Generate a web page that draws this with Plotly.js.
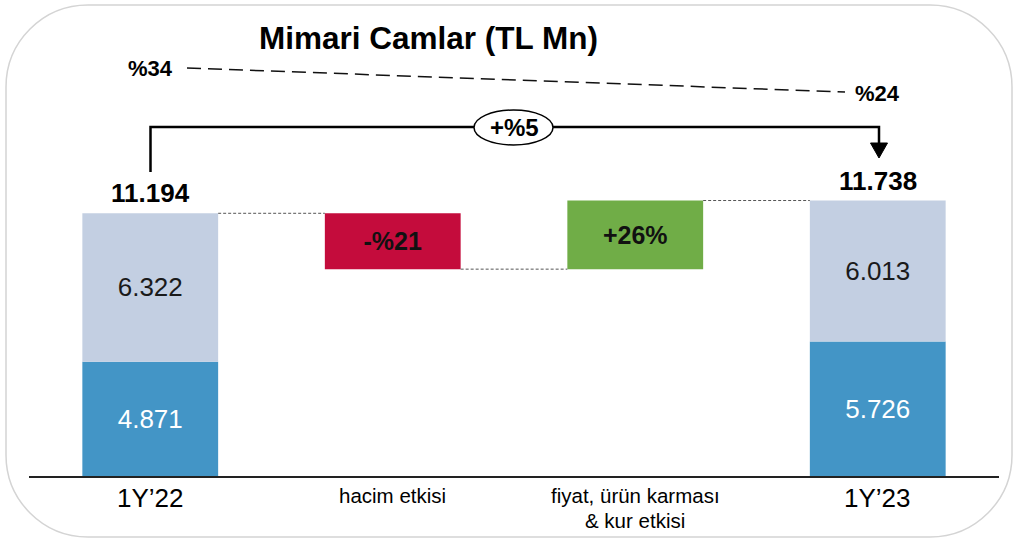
<!DOCTYPE html>
<html>
<head>
<meta charset="utf-8">
<script src="https://cdn.plot.ly/plotly-3.0.1.min.js"></script>
<style>
html,body{margin:0;padding:0;background:#fff;}
#chart{width:1017px;height:541px;}
</style>
</head>
<body>
<div id="chart"></div>
<script>
// ---- data ----
var categories = ["1Y\u201922", "hacim etkisi", "fiyat, \u00fcr\u00fcn karmas\u0131<br>& kur etkisi", "1Y\u201923"];
var periodCats = [categories[0], categories[3]];
var baseValues = [4871, 5726];      // dark blue segment
var upperValues = [6322, 6013];     // light segment
var totals = [11194, 11738];
var totalLabels = ["11.194", "11.738"];
var baseLabels = ["4.871", "5.726"];
var upperLabels = ["6.322", "6.013"];
var volumeEffect = -2380;
var priceEffect = 2924;
var effectLabels = ["-%21", "+26%"];
var marginStart = "%34";
var marginEnd = "%24";
var growthLabel = "+%5";
var titleText = "Mimari Camlar (TL Mn)";

// ---- geometry helpers (pixel -> paper) ----
var W = 1017, H = 541, ML = 29, MR = 18, MT = 20, MB = 65;
var PW = W - ML - MR, PH = H - MT - MB;
function px(x){ return (x - ML) / PW; }
function py(y){ return (H - MB - y) / PH; }

var FONT = "Liberation Sans, Arial, Helvetica, sans-serif";
var BW = 0.56;

var afterVolume = totals[0] + volumeEffect;

var traces = [
  {
    type: "bar", x: periodCats, y: baseValues, width: BW,
    marker: {color: "#4395C6", line: {width: 0}},
    text: baseLabels, textposition: "inside", insidetextanchor: "middle", textangle: 0,
    textfont: {family: FONT, size: 26, color: "#ffffff"},
    hoverinfo: "skip"
  },
  {
    type: "bar", x: periodCats, y: upperValues, base: baseValues, width: BW,
    marker: {color: "#C3CFE2", line: {width: 0}},
    text: upperLabels, textposition: "inside", insidetextanchor: "middle", textangle: 0,
    textfont: {family: FONT, size: 26, color: "#1a1a1a"},
    hoverinfo: "skip"
  },
  {
    type: "bar", x: [categories[1]], y: [volumeEffect], base: [totals[0]], width: BW,
    marker: {color: "#C40C3C", line: {width: 0}},
    text: [effectLabels[0]], textposition: "inside", insidetextanchor: "middle", textangle: 0,
    textfont: {family: FONT, size: 25, color: "#111111", weight: "bold"},
    hoverinfo: "skip"
  },
  {
    type: "bar", x: [categories[2]], y: [priceEffect], base: [afterVolume], width: BW,
    marker: {color: "#70AD47", line: {width: 0}},
    text: [effectLabels[1]], textposition: "inside", insidetextanchor: "middle", textangle: 0,
    textfont: {family: FONT, size: 25, color: "#111111", weight: "bold"},
    hoverinfo: "skip"
  }
];

// border path (rounded rectangle)
function roundRect(x0, y0, x1, y1, r){
  var k = 0.5523 * r;
  var p = "";
  p += "M" + px(x0 + r) + "," + py(y0);
  p += " L" + px(x1 - r) + "," + py(y0);
  p += " C" + px(x1 - r + k) + "," + py(y0) + " " + px(x1) + "," + py(y0 + r - k) + " " + px(x1) + "," + py(y0 + r);
  p += " L" + px(x1) + "," + py(y1 - r);
  p += " C" + px(x1) + "," + py(y1 - r + k) + " " + px(x1 - r + k) + "," + py(y1) + " " + px(x1 - r) + "," + py(y1);
  p += " L" + px(x0 + r) + "," + py(y1);
  p += " C" + px(x0 + r - k) + "," + py(y1) + " " + px(x0) + "," + py(y1 - r + k) + " " + px(x0) + "," + py(y1 - r);
  p += " L" + px(x0) + "," + py(y0 + r);
  p += " C" + px(x0) + "," + py(y0 + r - k) + " " + px(x0 + r - k) + "," + py(y0) + " " + px(x0 + r) + "," + py(y0);
  p += " Z";
  return p;
}

var shapes = [
  {type: "path", xref: "paper", yref: "paper", path: roundRect(6, 5, 1012, 537, 82),
   line: {color: "#D4D4D4", width: 1.5}, fillcolor: "rgba(0,0,0,0)", layer: "below"},
  // connectors
  {type: "line", xref: "x", yref: "y", x0: 0 + BW/2, x1: 1 - BW/2, y0: totals[0], y1: totals[0],
   line: {color: "#555555", width: 1, dash: "3px,2px"}},
  {type: "line", xref: "x", yref: "y", x0: 1 + BW/2, x1: 2 - BW/2, y0: afterVolume, y1: afterVolume,
   line: {color: "#555555", width: 1, dash: "3px,2px"}},
  {type: "line", xref: "x", yref: "y", x0: 2 + BW/2, x1: 3 - BW/2, y0: totals[1], y1: totals[1],
   line: {color: "#555555", width: 1, dash: "3px,2px"}},
  // margin dashed line
  {type: "line", xref: "paper", yref: "paper", x0: px(187), y0: py(68), x1: px(845), y1: py(92),
   line: {color: "#111111", width: 1.5, dash: "14px,7px"}},
  // bracket
  {type: "path", xref: "paper", yref: "paper",
   path: "M" + px(150.5) + "," + py(172) + " L" + px(150.5) + "," + py(127) + " L" + px(879) + "," + py(127) + " L" + px(879) + "," + py(144),
   line: {color: "#000000", width: 2.5}, fillcolor: "rgba(0,0,0,0)"},
  {type: "path", xref: "paper", yref: "paper",
   path: "M" + px(870.5) + "," + py(143) + " L" + px(887.5) + "," + py(143) + " L" + px(879) + "," + py(158) + " Z",
   line: {color: "#000000", width: 1}, fillcolor: "#000000"},
  // ellipse
  {type: "circle", xref: "paper", yref: "paper", x0: px(474), x1: px(553), y0: py(110), y1: py(145),
   line: {color: "#000000", width: 1.5}, fillcolor: "#ffffff", layer: "above"}
];

var annotations = [
  {xref: "paper", yref: "paper", x: px(428), y: py(38), text: "<b>" + titleText + "</b>", showarrow: false,
   xanchor: "center", yanchor: "middle", font: {family: FONT, size: 31.5, color: "#000000"}},
  {xref: "paper", yref: "paper", x: px(150), y: py(68), text: "<b>" + marginStart + "</b>", showarrow: false,
   xanchor: "center", yanchor: "middle", font: {family: FONT, size: 22, color: "#000000"}},
  {xref: "paper", yref: "paper", x: px(877), y: py(93), text: "<b>" + marginEnd + "</b>", showarrow: false,
   xanchor: "center", yanchor: "middle", font: {family: FONT, size: 22, color: "#000000"}},
  {xref: "paper", yref: "paper", x: px(514), y: py(128), text: "<b>" + growthLabel + "</b>", showarrow: false,
   xanchor: "center", yanchor: "middle", font: {family: FONT, size: 24, color: "#000000"}},
  {xref: "x", yref: "y", x: categories[0], y: totals[0], yshift: 20, text: "<b>" + totalLabels[0] + "</b>", showarrow: false,
   xanchor: "center", yanchor: "middle", font: {family: FONT, size: 26, color: "#000000"}},
  {xref: "x", yref: "y", x: categories[3], y: totals[1], yshift: 20, text: "<b>" + totalLabels[1] + "</b>", showarrow: false,
   xanchor: "center", yanchor: "middle", font: {family: FONT, size: 26, color: "#000000"}}
];

// category labels (multi-line labels are laid out line by line)
categories.forEach(function(c, i){
  var big = (i === 0 || i === 3);
  var lines = c.split("<br>");
  lines.forEach(function(line, j){
    annotations.push({
      xref: "x", yref: "paper", x: c, y: py((big ? 498 : 496) + j * 24), text: line, showarrow: false,
      xanchor: "center", yanchor: "middle",
      font: {family: FONT, size: big ? 26 : 20.5, color: "#000000"}
    });
  });
});

var layout = {
  width: W, height: H,
  margin: {l: ML, r: MR, t: MT, b: MB, pad: 0},
  paper_bgcolor: "#ffffff", plot_bgcolor: "rgba(0,0,0,0)",
  barmode: "overlay",
  showlegend: false,
  xaxis: {type: "category", categoryorder: "array", categoryarray: categories,
          range: [-0.5, 3.5], showticklabels: false, ticks: "", showgrid: false, zeroline: false,
          showline: true, linecolor: "#222222", linewidth: 2, fixedrange: true},
  yaxis: {range: [0, 19430], visible: false, showgrid: false, zeroline: false, fixedrange: true},
  shapes: shapes,
  annotations: annotations
};

Plotly.newPlot("chart", traces, layout, {displayModeBar: false, staticPlot: true});
</script>
</body>
</html>
